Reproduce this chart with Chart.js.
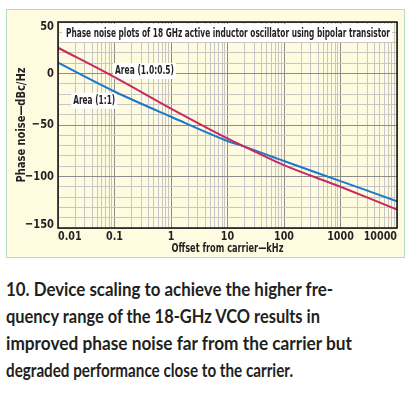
<!DOCTYPE html>
<html>
<head>
<meta charset="utf-8">
<script src="https://cdn.jsdelivr.net/npm/chart.js@4.4.1/dist/chart.umd.min.js"></script>
<style>
html, body { margin: 0; padding: 0; background: #fff; width: 409px; height: 395px; overflow: hidden; }
#panel { position: absolute; left: 6px; top: 9px; width: 397px; height: 247px; background: #fffbe1; border: 1.5px solid #b4dcc2; }
#wrap { position: absolute; left: 0; top: 0; width: 409px; height: 262px; }
.cap { position: absolute; left: 6px; height: 27px; line-height: 27px; font-family: Lato, sans-serif; font-weight: 700; font-size: 19px; color: #231f20; white-space: nowrap; transform-origin: 0 50%; }
</style>
</head>
<body>
<div id="panel"></div>
<div id="wrap"><canvas id="chart"></canvas></div>
<div class="cap" style="top:275px" data-w="327">10. Device scaling to achieve the higher fre-</div>
<div class="cap" style="top:302px" data-w="314">quency range of the 18-GHz VCO results in</div>
<div class="cap" style="top:329px" data-w="346">improved phase noise far from the carrier but</div>
<div class="cap" style="top:356px" data-w="287">degraded performance close to the carrier.</div>
<script>
// offset from carrier (kHz) and phase noise (dBc/Hz)
var offsetsKHz = [0.01, 0.1, 1, 10, 20, 100, 1000, 10000];
var areaHalf = [25, -3.5, -34, -63, -71, -89, -110, -132];   // Area (1.0:0.5)
var areaOne = [10.5, -17.5, -42, -65.5, -71, -85, -104.5, -124];  // Area (1:1)

var xTickValues = [0.01, 0.1, 1, 10, 100, 1000, 10000];
var xTickLabels = ['0.01', '0.1', '1', '10', '100', '1000', '10000'];
var yTickValues = [50, 0, -50, -100, -150];
var yTickLabels = ['50', '0', '\u221250', '\u2212100', '\u2212150'];

var narrow = "'Liberation Sans Narrow', 'DejaVu Sans Condensed', 'Roboto Condensed', sans-serif";
var ink = '#231f20';

// series labels, placed in data coordinates
var seriesLabels = [
    { t: 'Area (1.0:0.5)', x: 0.34, y: 2.4, w: 59 },
    { t: 'Area (1:1)', x: 0.0437, y: -26.5, w: 42 }
];

function points(ys) {
    return offsetsKHz.map(function (x, i) { return { x: x, y: ys[i] }; });
}

function isDecade(v) {
    var l = Math.log10(v);
    return Math.abs(l - Math.round(l)) < 1e-6;
}

// draw text squeezed to a given width
function fitText(ctx, text, cx, cy, w, rot) {
    var m = ctx.measureText(text).width;
    ctx.save();
    ctx.translate(cx, cy);
    if (rot) ctx.rotate(rot);
    ctx.scale(w / m, 1);
    ctx.textAlign = 'center';
    ctx.textBaseline = 'middle';
    ctx.fillText(text, 0, 0);
    ctx.restore();
}

var decor = {
    id: 'decor',
    beforeDatasetsDraw: function (chart) {
        var ctx = chart.ctx, a = chart.chartArea;
        var xs = chart.scales.x, ys = chart.scales.y;
        ctx.save();
        ctx.fillStyle = '#fff';
        ctx.fillRect(a.left + 4, a.top + 2, a.right - a.left - 9, 18);
        seriesLabels.forEach(function (l) {
            var px = xs.getPixelForValue(l.x), py = ys.getPixelForValue(l.y);
            ctx.fillRect(px - l.w / 2 - 2, py - 8, l.w + 4, 16);
        });
        ctx.restore();
    },
    afterDraw: function (chart) {
        var ctx = chart.ctx, a = chart.chartArea;
        var xs = chart.scales.x, ys = chart.scales.y;
        ctx.save();
        // plot frame
        ctx.strokeStyle = '#111';
        ctx.lineWidth = 1.5;
        ctx.strokeRect(a.left, a.top, a.right - a.left, a.bottom - a.top);

        ctx.fillStyle = ink;
        ctx.font = 'bold 13px ' + narrow;
        fitText(ctx, 'Phase noise plots of 18 GHz active inductor oscillator using bipolar transistor', (a.left + a.right) / 2 + 0.5, a.top + 11.5, 324);

        seriesLabels.forEach(function (l) {
            fitText(ctx, l.t, xs.getPixelForValue(l.x), ys.getPixelForValue(l.y), l.w);
        });

        // x tick labels, kept inside the plot width
        xTickValues.forEach(function (v, i) {
            var px = xs.getPixelForValue(v);
            var w = ctx.measureText(xTickLabels[i]).width * 0.82;
            var cx = Math.min(Math.max(px, a.left + w / 2), a.right - w / 2);
            fitText(ctx, xTickLabels[i], cx, a.bottom + 8.5, w);
        });

        // y tick labels, kept inside the plot height
        yTickValues.forEach(function (v, i) {
            var py = ys.getPixelForValue(v);
            var w = ctx.measureText(yTickLabels[i]).width * 0.85;
            var cy = Math.min(Math.max(py, a.top + 5), a.bottom - 3);
            fitText(ctx, yTickLabels[i], a.left - 4 - w / 2, cy, w);
        });

        // axis titles
        fitText(ctx, 'Offset from carrier\u2014kHz', (a.left + a.right) / 2, a.bottom + 20.5, 112);
        fitText(ctx, 'Phase noise\u2014dBc/Hz', 22, (a.top + a.bottom) / 2, 115, -Math.PI / 2);
        ctx.restore();
    }
};

var config = {
    type: 'scatter',
    data: {
        datasets: [{
            label: 'Area (1.0:0.5)',
            data: points(areaHalf),
            showLine: true,
            borderColor: '#c82a5e',
            borderWidth: 2,
            pointRadius: 0,
            cubicInterpolationMode: 'monotone'
        }, {
            label: 'Area (1:1)',
            data: points(areaOne),
            showLine: true,
            borderColor: '#1b78c9',
            borderWidth: 2,
            pointRadius: 0,
            cubicInterpolationMode: 'monotone'
        }]
    },
    options: {
        responsive: false,
        animation: false,
        layout: { padding: { left: 0, right: 12, top: 22, bottom: 0 } },
        plugins: { legend: { display: false }, tooltip: { enabled: false } },
        scales: {
            x: {
                type: 'logarithmic',
                min: 0.01,
                max: 10000,
                afterBuildTicks: function (scale) {
                    var t = [];
                    for (var e = -2; e <= 4; e++) {
                        for (var m = 1; m <= 9; m++) {
                            var v = Number((m * Math.pow(10, e)).toPrecision(3));
                            if (v <= 10000) t.push({ value: v });
                        }
                    }
                    scale.ticks = t;
                },
                afterFit: function (scale) { scale.height = 34; },
                ticks: { display: false, autoSkip: false },
                grid: {
                    color: function (c) { return isDecade(c.tick.value) ? '#8c8c8c' : '#c6c6c6'; },
                    lineWidth: 1,
                    drawTicks: false
                },
                border: { display: false }
            },
            y: {
                min: -150,
                max: 50,
                afterBuildTicks: function (scale) {
                    var t = [];
                    for (var v = -150; v <= 50; v += 10) t.push({ value: v });
                    scale.ticks = t;
                },
                afterFit: function (scale) { scale.width = 58; },
                ticks: { display: false, autoSkip: false },
                grid: {
                    color: function (c) { return c.tick.value % 50 === 0 ? '#8c8c8c' : '#c6c6c6'; },
                    lineWidth: 1,
                    drawTicks: false
                },
                border: { display: false }
            }
        }
    },
    plugins: [decor]
};

var cv = document.getElementById('chart');
cv.width = 409;
cv.height = 262;
var myChart = new Chart(cv.getContext('2d'), config);

// squeeze caption lines to the widths of the printed text
var caps = document.querySelectorAll('.cap');
for (var i = 0; i < caps.length; i++) {
    var w = caps[i].getBoundingClientRect().width;
    caps[i].style.transform = 'scaleX(' + (caps[i].getAttribute('data-w') / w) + ')';
}
</script>
</body>
</html>
